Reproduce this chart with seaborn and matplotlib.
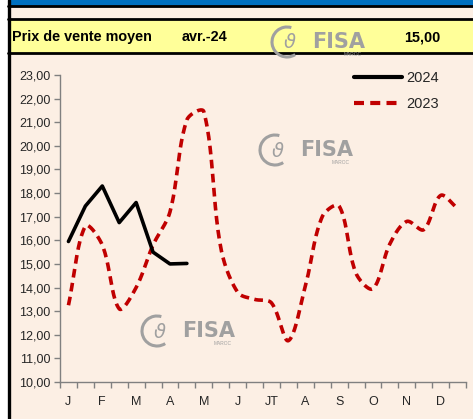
import numpy as np
import pandas as pd
import matplotlib
matplotlib.use("Agg")
import matplotlib.pyplot as plt
from matplotlib.patches import Rectangle, Arc
from matplotlib.lines import Line2D
import seaborn as sns

# ---- data ----
month_labels = ["J", "F", "M", "A", "M", "J", "JT", "A", "S", "O", "N", "D"]
y2024 = [15.95, 17.45, 18.3, 16.75, 17.6, 15.5, 15.0, 15.02]
y2023 = [13.25, 16.6, 15.8, 13.1, 14.0, 15.8, 17.2, 21.1, 21.45, 15.7, 13.8, 13.5,
         13.35, 11.75, 14.05, 17.0, 17.45, 14.6, 13.95, 15.85, 16.8, 16.45, 17.9, 17.35]
y_ticks = [10, 11, 12, 13, 14, 15, 16, 17, 18, 19, 20, 21, 22, 23]
header_label = "Prix de vente moyen"
header_period = "avr.-24"
header_value = "15,00"

BG = "#FCEFE4"
RED = "#C00000"

sns.set_theme(style="white")
plt.rcParams["font.family"] = ["Liberation Sans", "DejaVu Sans"]

fig = plt.figure(figsize=(4.73, 4.19), dpi=100)
fig.patch.set_facecolor(BG)
W, H = 473.0, 419.0

def fx(px):
    return px / W

def fy(py):
    return 1 - py / H

# header bands
fig.add_artist(Rectangle((0, 0), fx(8), 1, transform=fig.transFigure, color="white", zorder=0))
fig.add_artist(Rectangle((fx(9), fy(6)), 1, fy(0) - fy(6), transform=fig.transFigure, color="#0070C0", zorder=1))
fig.add_artist(Rectangle((fx(9), fy(53)), 1, fy(20) - fy(53), transform=fig.transFigure, color="#FFFF99", zorder=1))
for yy in [6.5, 19, 53.5]:
    fig.add_artist(Line2D([fx(8), 1], [fy(yy), fy(yy)], transform=fig.transFigure, color="black", lw=2, zorder=2))
fig.add_artist(Line2D([fx(8.5), fx(8.5)], [0, 1], transform=fig.transFigure, color="black", lw=2.4, zorder=3))

for xpos, txt in [(12, header_label), (182, header_period), (404, header_value)]:
    fig.text(fx(xpos), fy(37), txt, fontsize=10.4, fontweight="bold", va="center", ha="left", color="black")

def logo(left, cy):
    col = "#A0A0A0"
    ac = (fx(left - 25), fy(cy))
    fig.add_artist(Arc(ac, fx(30), fy(0) - fy(30), theta1=75, theta2=300,
                       transform=fig.transFigure, color=col, lw=2.2, zorder=6))
    fig.text(fx(left - 22), fy(cy + 1), "\u03d1", fontsize=14, color=col, ha="center",
             va="center", style="italic", zorder=6, family="DejaVu Sans")
    fig.text(fx(left), fy(cy), "FISA", fontsize=15, fontweight="bold", color=col,
             ha="left", va="center", zorder=6, family="DejaVu Sans")
    fig.text(fx(left + 50), fy(cy + 12), "MAROC", fontsize=3.5, color=col,
             ha="right", va="center", zorder=6)

# axes
ax = fig.add_axes([fx(60), fy(382), fx(466) - fx(60), fy(75) - fy(382)])
ax.set_facecolor(BG)
ax.set_xlim(-0.5, 23.5)
ax.set_ylim(10, 23)

x24 = np.arange(len(y2024))
df24 = pd.DataFrame({"x": x24, "y": y2024})
sns.lineplot(data=df24, x="x", y="y", ax=ax, color="black", lw=2.6, label="2024", zorder=5)

# smoothed 2023, spreadsheet-style Bezier smoothing done in screen space
pts = ax.transData.transform(np.column_stack([np.arange(len(y2023)), y2023]))
n = len(pts)
curve = [pts[0]]
def ln(v):
    return np.hypot(v[0], v[1])
for i in range(n - 1):
    p0 = pts[i - 1] if i > 0 else pts[i]
    p1, p2 = pts[i], pts[i + 1]
    p3 = pts[i + 2] if i + 2 < n else pts[i + 1]
    d1 = p2 - p0
    d2 = p3 - p1
    c12 = ln(p2 - p1)
    a = ln(p1 - p0) + c12
    b = c12 + ln(p3 - p2)
    c1 = p1 + d1 * (c12 / a / 3 if a > 0 else 0)
    c2 = p2 - d2 * (c12 / b / 3 if b > 0 else 0)
    t = np.linspace(0, 1, 25)[1:, None]
    seg = (1 - t) ** 3 * p1 + 3 * (1 - t) ** 2 * t * c1 + 3 * (1 - t) * t ** 2 * c2 + t ** 3 * p2
    curve.extend(seg)
curve = ax.transData.inverted().transform(np.array(curve))
ax.plot(curve[:, 0], curve[:, 1], color=RED, lw=2.6, dashes=(2.4, 1.5), label="2023",
        zorder=4, dash_capstyle="butt")

ax.set_yticks(y_ticks)
ax.set_yticklabels([f"{v:.2f}".replace(".", ",") for v in y_ticks], fontsize=9, color="#262626")
ax.set_xticks(np.arange(-0.5, 24, 1))
ax.set_xticklabels([])
ax.set_xticks(np.arange(0, 24, 2), minor=True)
ax.set_xticklabels(month_labels, minor=True, fontsize=9, color="#262626")
ax.tick_params(axis="x", which="major", direction="out", length=4, width=1, color="#808080", bottom=True)
ax.tick_params(axis="x", which="minor", length=0, pad=10)
ax.tick_params(axis="y", direction="out", length=4, width=1, color="#808080", left=True, pad=3)
ax.set_xlabel("")
ax.set_ylabel("")
for s in ["top", "right"]:
    ax.spines[s].set_visible(False)
for s in ["left", "bottom"]:
    ax.spines[s].set_color("#808080")
    ax.spines[s].set_linewidth(1)

leg = ax.legend(loc="upper left", bbox_to_anchor=(fx(354), fy(71)), bbox_transform=fig.transFigure,
                frameon=False, fontsize=10.5, borderpad=0, borderaxespad=0,
                handlelength=3.3, handletextpad=0.25, labelspacing=0.85)
for h in leg.get_lines():
    h.set_linewidth(3.0)

logo(312, 42)
logo(300, 150)
logo(182, 331)

fig.savefig("out.png", dpi=100, facecolor=BG)
